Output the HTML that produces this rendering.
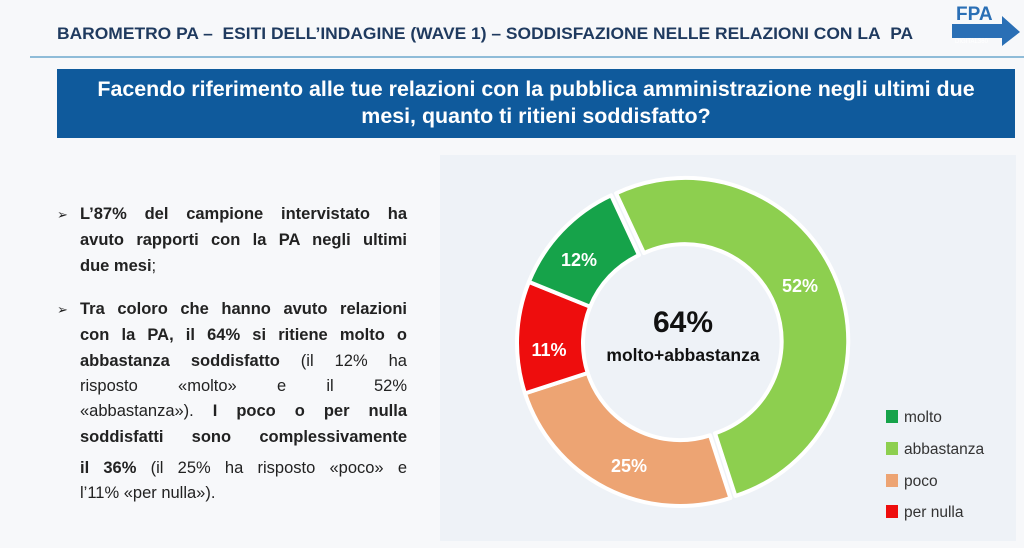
<!DOCTYPE html>
<html><head><meta charset="utf-8"><style>
body{margin:0;width:1024px;height:548px;background:#f7f8fa;font-family:"Liberation Sans",sans-serif;overflow:hidden;position:relative}
.h{position:absolute;left:57px;top:24px;font-size:17px;font-weight:bold;color:#1f3a5f;white-space:nowrap;transform-origin:0 0;transform:scaleX(1.025)}
.line{position:absolute;left:30px;right:0;top:56px;height:2px;background:#8fbcd8}
.box{position:absolute;left:57px;top:69px;width:958px;height:69px;background:#0f5a9c;color:#fff;font-weight:bold;font-size:21.4px;text-align:center;line-height:27px;padding-top:7px;box-sizing:border-box;white-space:nowrap}
.txt{position:absolute;left:57px;top:202px;width:350px;font-size:16.5px;color:#222}
.txt div{position:absolute;left:23px;width:327px;text-align:justify;text-align-last:justify;white-space:nowrap;height:25px;line-height:25px}
.txt div.l{text-align-last:left}
.txt span.b{position:absolute;left:0;font-size:13px;line-height:25px}
.panel{position:absolute;left:440px;top:155px;width:576px;height:386px;background:#eef2f7}
.logo{position:absolute;left:950px;top:2px}
</style></head><body>
<div class="h">BAROMETRO PA –&nbsp; ESITI DELL’INDAGINE (WAVE 1) – SODDISFAZIONE NELLE RELAZIONI CON LA&nbsp; PA</div>
<svg class="logo" width="72" height="45"><text x="6" y="18" font-size="19" font-weight="bold" fill="#2a6fb5" font-family="Liberation Sans">FPA</text><polygon points="2,22 52,22 52,14 70,30 52,44 52,36 2,36" fill="#2a6fb5"/><text x="5" y="41" font-size="6" fill="#fff" font-family="Liberation Sans">DIGITAL360</text></svg>
<div class="line"></div>
<div class="box">Facendo riferimento alle tue relazioni con la pubblica amministrazione negli ultimi due<br>mesi, quanto ti ritieni soddisfatto?</div>
<div class="panel"></div>
<div class="txt">
<span class="b" style="top:0">➢</span>
<div style="top:0"><b>L’87% del campione intervistato ha</b></div>
<div style="top:26px"><b>avuto rapporti con la PA negli ultimi</b></div>
<div class="l" style="top:52px"><b>due mesi</b>;</div>
<span class="b" style="top:95px">➢</span>
<div style="top:95px"><b>Tra coloro che hanno avuto relazioni</b></div>
<div style="top:121px"><b>con la PA, il 64% si ritiene molto o</b></div>
<div style="top:147px"><b>abbastanza soddisfatto</b> (il 12% ha</div>
<div style="top:172px">risposto «molto» e il 52%</div>
<div style="top:197px">«abbastanza»). <b>I poco o per nulla</b></div>
<div style="top:223px"><b>soddisfatti sono complessivamente</b></div>
<div style="top:254px"><b>il 36%</b> (il 25% ha risposto «poco» e</div>
<div class="l" style="top:279px">l’11% «per nulla»).</div>
</div>
<svg style="position:absolute;left:0;top:0" width="1024" height="548" font-family="Liberation Sans,sans-serif" font-weight="bold">
<g stroke="#fff" stroke-width="4" stroke-linejoin="round">
<path transform="translate(5,-2)" d="M611.1,195.3 A163,163 0 1 1 730.4,498 L710,435.3 A97,97 0 1 0 639,255.1 Z" fill="#8dcf4f"/>
<path d="M730.4,498 A163,163 0 0 1 525,393.4 L587.7,373 A97,97 0 0 0 710,435.3 Z" fill="#eda473"/>
<path d="M525,393.4 A163,163 0 0 1 528.9,281.9 L590.1,306.7 A97,97 0 0 0 587.7,373 Z" fill="#ee0d0d"/>
<path d="M528.9,281.9 A163,163 0 0 1 611.1,195.3 L639,255.1 A97,97 0 0 0 590.1,306.7 Z" fill="#16a34a"/>
</g>
<g fill="#fff" font-size="18" text-anchor="middle">
<text x="579" y="266">12%</text><text x="800" y="292">52%</text><text x="549" y="356">11%</text><text x="629" y="472">25%</text>
</g>
<text x="683" y="332" font-size="30" text-anchor="middle" fill="#111">64%</text>
<text x="683" y="361" font-size="17.5" text-anchor="middle" fill="#111">molto+abbastanza</text>
<g font-weight="normal" font-size="15.5" fill="#333">
<rect x="886" y="410" width="12" height="13" fill="#16a34a"/><text x="904" y="422">molto</text>
<rect x="886" y="442" width="12" height="13" fill="#8dcf4f"/><text x="904" y="454">abbastanza</text>
<rect x="886" y="474" width="12" height="13" fill="#eda473"/><text x="904" y="486">poco</text>
<rect x="886" y="505" width="12" height="13" fill="#ee0d0d"/><text x="904" y="517">per nulla</text>
</g>
</svg>
</body></html>
